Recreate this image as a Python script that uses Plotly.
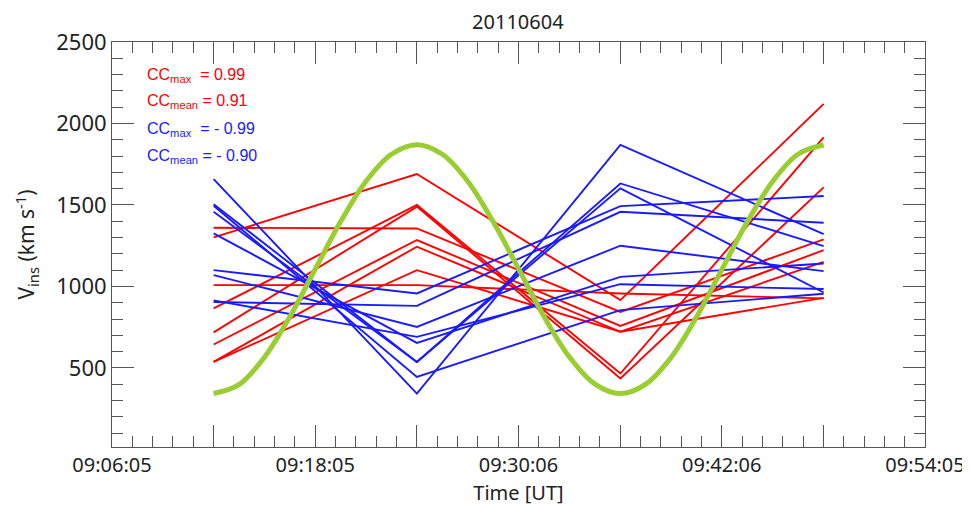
import plotly.graph_objects as go

# ---- data ----
times = ["2011-06-04 09:12:05", "2011-06-04 09:24:05",
         "2011-06-04 09:36:06", "2011-06-04 09:48:06"]

red_series = [
    [1301, 1690, 916, 2120],
    [865, 1500, 466, 1915],
    [718, 1490, 436, 1608],
    [1360, 1356, 844, 1289],
    [644, 1285, 758, 1223],
    [537, 1244, 722, 1151],
    [537, 1100, 722, 930],
    [1008, 1008, 957, 927],
]

blue_series = [
    [1659, 343, 1868, 1321],
    [1505, 537, 1632, 1248],
    [1495, 445, 855, 955],
    [1458, 537, 1602, 963],
    [1326, 654, 1059, 1141],
    [1100, 957, 1493, 1555],
    [1070, 752, 1250, 1094],
    [915, 691, 1014, 984],
    [905, 881, 1458, 1391],
]

green_times = [
    "2011-06-04 09:12:05", "2011-06-04 09:13:35", "2011-06-04 09:15:05", "2011-06-04 09:16:35",
    "2011-06-04 09:18:05", "2011-06-04 09:19:35", "2011-06-04 09:21:05", "2011-06-04 09:22:35",
    "2011-06-04 09:24:05", "2011-06-04 09:25:35", "2011-06-04 09:27:05", "2011-06-04 09:28:35",
    "2011-06-04 09:30:06", "2011-06-04 09:31:36", "2011-06-04 09:33:06", "2011-06-04 09:34:36",
    "2011-06-04 09:36:06", "2011-06-04 09:37:36", "2011-06-04 09:39:06", "2011-06-04 09:40:36",
    "2011-06-04 09:42:06", "2011-06-04 09:43:36", "2011-06-04 09:45:06", "2011-06-04 09:46:36",
    "2011-06-04 09:48:06"]
green_values = [343, 398, 566, 814, 1106, 1398, 1646, 1811,
                1870, 1811, 1646, 1398, 1106, 814, 566, 401,
                343, 401, 566, 814, 1106, 1398, 1646, 1813, 1868]

x_tickvals = ["2011-06-04 09:06:05", "2011-06-04 09:12:05", "2011-06-04 09:18:05",
              "2011-06-04 09:24:05", "2011-06-04 09:30:05", "2011-06-04 09:36:05",
              "2011-06-04 09:42:05", "2011-06-04 09:48:05", "2011-06-04 09:54:05"]
x_ticktext = ["09:06:05", "", "09:18:05", "", "09:30:06", "", "09:42:06", "", "09:54:05"]
y_tickvals = [500, 1000, 1500, 2000, 2500]

cc_labels = ["CC<sub>max</sub>\u00a0 = 0.99", "CC<sub>mean</sub> = 0.91",
             "CC<sub>max</sub>\u00a0 = - 0.99", "CC<sub>mean</sub> = - 0.90"]

RED = "#ff0000"
BLUE = "#1a1aff"
GREEN = "#9acd32"
FONT = "Noto Sans"
LABEL_FONT = "Liberation Sans"
TXT = "#222222"

fig = go.Figure()
for s in red_series:
    fig.add_trace(go.Scatter(x=times, y=s, mode="lines",
                             line=dict(color=RED, width=1.9), hoverinfo="skip"))
for s in blue_series:
    fig.add_trace(go.Scatter(x=times, y=s, mode="lines",
                             line=dict(color=BLUE, width=1.9), hoverinfo="skip"))
fig.add_trace(go.Scatter(x=green_times, y=green_values, mode="lines",
                         line=dict(color=GREEN, width=5, shape="spline", smoothing=1.0),
                         hoverinfo="skip"))

label_colors = [RED, RED, BLUE, BLUE]
label_y = [0.917, 0.852, 0.785, 0.717]
for txt, c, yy in zip(cc_labels, label_colors, label_y):
    fig.add_annotation(x=0.040, y=yy, xref="paper", yref="paper", text=txt,
                       showarrow=False, xanchor="left", yanchor="middle",
                       font=dict(family=LABEL_FONT, size=16, color=c))

axis_col = "#555555"
# the page body adds an 8 px offset at top/left, so the figure is 8 px smaller than the window
fig.update_layout(
    width=962, height=498,
    margin=dict(l=104, r=45, t=34, b=59, autoexpand=False),
    paper_bgcolor="white", plot_bgcolor="white",
    showlegend=False,
    font=dict(family=FONT, color=TXT),
    title=dict(text="20110604", x=0.530, xref="container", xanchor="center",
               y=0.972, yanchor="middle",
               font=dict(family=FONT, size=20, color=TXT)),
    xaxis=dict(
        type="date", automargin=False,
        range=["2011-06-04 09:06:05", "2011-06-04 09:54:05"],
        tickmode="array", tickvals=x_tickvals, ticktext=x_ticktext,
        ticks="inside", ticklen=22, tickwidth=1, tickcolor=axis_col,
        showline=True, linecolor=axis_col, linewidth=1, mirror="allticks",
        showgrid=False, zeroline=False,
        tickfont=dict(family=FONT, size=20, color=TXT),
        title=dict(text="Time [UT]", font=dict(family=FONT, size=20, color=TXT), standoff=8),
        minor=dict(dtick=72000, tick0="2011-06-04 09:06:05", ticks="inside",
                   ticklen=11, tickcolor=axis_col, showgrid=False),
    ),
    yaxis=dict(
        automargin=False,
        range=[15, 2500],
        tickmode="array", tickvals=y_tickvals,
        ticks="inside", ticklen=22, tickwidth=1, tickcolor=axis_col,
        showline=True, linecolor=axis_col, linewidth=1, mirror="allticks",
        showgrid=False, zeroline=False,
        tickfont=dict(family=FONT, size=22, color=TXT),
        title=dict(text="V<sub>ins</sub> (km s<sup>-1</sup>)",
                   font=dict(family=FONT, size=21, color=TXT), standoff=15),
        minor=dict(dtick=100, tick0=0, ticks="inside", ticklen=11,
                   tickcolor=axis_col, showgrid=False),
    ),
)

fig.write_html("out.html")
